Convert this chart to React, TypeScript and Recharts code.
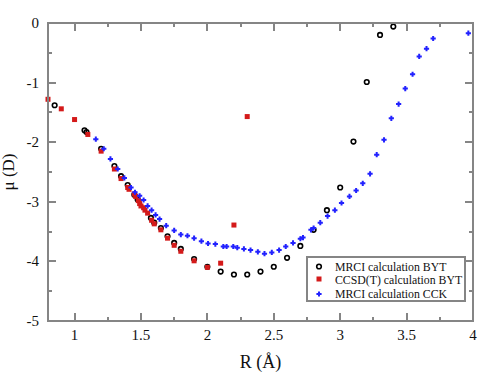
import React from 'react';
import { ScatterChart, Scatter, XAxis, YAxis, Label } from 'recharts';

const mrciBytR = [0.85, 1.075, 1.09, 1.2, 1.3, 1.35, 1.4, 1.45, 1.475, 1.575, 1.6, 1.65, 1.7, 1.75, 1.8, 1.9, 2.0, 2.1, 2.2, 2.3, 2.4, 2.5, 2.6, 2.7, 2.8, 2.9, 3.0, 3.1, 3.2, 3.3, 3.4];
const mrciBytMu = [-1.38, -1.80, -1.83, -2.11, -2.40, -2.57, -2.72, -2.88, -2.96, -3.27, -3.35, -3.44, -3.58, -3.69, -3.79, -3.96, -4.09, -4.17, -4.22, -4.22, -4.17, -4.09, -3.94, -3.74, -3.47, -3.14, -2.76, -1.99, -0.99, -0.20, -0.06];

const ccsdR = [0.8, 0.9, 1.0, 1.1, 1.2, 1.3, 1.35, 1.4, 1.41, 1.45, 1.46, 1.48, 1.49, 1.5, 1.52, 1.53, 1.55, 1.58, 1.6, 1.65, 1.7, 1.75, 1.8, 1.9, 2.0, 2.1, 2.2, 2.3];
const ccsdMu = [-1.28, -1.44, -1.62, -1.87, -2.15, -2.45, -2.61, -2.76, -2.79, -2.87, -2.91, -2.98, -3.03, -3.07, -3.10, -3.14, -3.19, -3.31, -3.37, -3.47, -3.61, -3.73, -3.83, -3.99, -4.10, -4.03, -3.39, -1.57];

const mrciCckR = [1.16, 1.22, 1.27, 1.325, 1.375, 1.425, 1.455, 1.49, 1.52, 1.55, 1.58, 1.61, 1.64, 1.69, 1.75, 1.80, 1.85, 1.90, 1.955, 2.005, 2.06, 2.12, 2.145, 2.195, 2.225, 2.275, 2.325, 2.38, 2.43, 2.485, 2.54, 2.59, 2.645, 2.70, 2.72, 2.78, 2.80, 2.85, 2.905, 2.96, 3.01, 3.07, 3.12, 3.17, 3.225, 3.275, 3.33, 3.385, 3.44, 3.49, 3.545, 3.595, 3.65, 3.70, 3.965];
const mrciCckMu = [-1.95, -2.11, -2.28, -2.45, -2.60, -2.76, -2.84, -2.90, -2.97, -3.07, -3.14, -3.22, -3.29, -3.40, -3.48, -3.55, -3.57, -3.61, -3.66, -3.70, -3.71, -3.75, -3.75, -3.75, -3.77, -3.79, -3.81, -3.84, -3.87, -3.85, -3.81, -3.75, -3.69, -3.62, -3.60, -3.47, -3.44, -3.35, -3.24, -3.14, -3.02, -2.91, -2.81, -2.69, -2.53, -2.21, -1.96, -1.60, -1.36, -1.10, -0.86, -0.56, -0.43, -0.26, -0.17];

const xDomain = [0.8, 4];
const yDomain = [-5, 0];
const xTicks = [1, 1.25, 1.5, 1.75, 2, 2.25, 2.5, 2.75, 3, 3.25, 3.5, 3.75, 4];
const yTicks = [-5, -4.5, -4, -3.5, -3, -2.5, -2, -1.5, -1, -0.5, 0];

const seriesNames = ['MRCI calculation BYT', 'CCSD(T) calculation BYT', 'MRCI calculation CCK'];

const toPoints = (xs: number[], ys: number[]) => xs.map((x, i) => ({ x, y: ys[i] }));
const bytData = toPoints(mrciBytR, mrciBytMu);
const ccsdData = toPoints(ccsdR, ccsdMu);
const cckData = toPoints(mrciCckR, mrciCckMu);

const W = 494;
const H = 381;
const MARGIN = { top: 23, right: 21, bottom: 10, left: 8 };
const Y_AXIS_W = 40;
const X_AXIS_H = 50;
const PLOT = {
  left: MARGIN.left + Y_AXIS_W,
  top: MARGIN.top,
  right: W - MARGIN.right,
  bottom: H - MARGIN.bottom - X_AXIS_H,
};
const sx = (v: number) => PLOT.left + ((v - xDomain[0]) / (xDomain[1] - xDomain[0])) * (PLOT.right - PLOT.left);
const sy = (v: number) => PLOT.bottom - ((v - yDomain[0]) / (yDomain[1] - yDomain[0])) * (PLOT.bottom - PLOT.top);

const AXIS = '#858585';
const FONT = '"Liberation Serif", "Times New Roman", serif';
const RED = '#d41a1a';
const BLUE = '#2222ff';
const TW = 2;

const isHalf = (v: number) => Math.abs(v * 2 - Math.round(v * 2)) < 1e-6;
const isInt = (v: number) => Math.abs(v - Math.round(v)) < 1e-6;

const BottomLabel = (p: any) => {
  const v = p.payload.value;
  if (!isHalf(v)) return <g />;
  return <text x={p.x} y={p.y + 19} textAnchor="middle" fontFamily={FONT} fontSize={15} fill="#111">{String(v)}</text>;
};
const LeftLabel = (p: any) => {
  const v = p.payload.value;
  if (!isInt(v)) return <g />;
  return <text x={p.x - 9} y={p.y + 5} textAnchor="end" fontFamily={FONT} fontSize={15} fill="#111">{String(v)}</text>;
};

const CircleShape = (p: any) => (
  <circle cx={p.cx} cy={p.cy} r={2.3} fill="none" stroke="#000" strokeWidth={1.6} />
);
const SquareShape = (p: any) => (
  <rect x={p.cx - 2.5} y={p.cy - 2.5} width={5} height={5} fill={RED} />
);
const starPath = (cx: number, cy: number) =>
  `M${cx - 1},${cy - 2.6} L${cx + 1},${cy - 2.6} L${cx + 1},${cy - 1} L${cx + 2.6},${cy - 1} L${cx + 2.6},${cy + 1} L${cx + 1},${cy + 1} L${cx + 1},${cy + 2.6} L${cx - 1},${cy + 2.6} L${cx - 1},${cy + 1} L${cx - 2.6},${cy + 1} L${cx - 2.6},${cy - 1} L${cx - 1},${cy - 1} Z`;
const StarShape = (p: any) => <path d={starPath(p.cx, p.cy)} fill={BLUE} />;

const box = (key: string, left: number, top: number, width: number, height: number) => (
  <div key={key} style={{ position: 'absolute', left, top, width, height, background: AXIS }} />
);

function HtmlFrame() {
  const items: any[] = [];
  const w = PLOT.right - PLOT.left;
  const h = PLOT.bottom - PLOT.top;
  items.push(
    <div
      key="frame"
      style={{
        position: 'absolute',
        left: PLOT.left - 1,
        top: PLOT.top - 1,
        width: w + 2,
        height: h + 2,
        border: `2px solid ${AXIS}`,
        boxSizing: 'border-box',
      }}
    />
  );
  xTicks.forEach((t, i) => {
    const len = isHalf(t) ? 8 : 4;
    const x = Math.round(sx(t)) - TW / 2;
    items.push(box(`b${i}`, x, PLOT.bottom - len, TW, len));
    items.push(box(`t${i}`, x, PLOT.top, TW, len));
  });
  yTicks.forEach((t, i) => {
    const len = isInt(t) ? 8 : 4;
    const y = Math.round(sy(t)) - TW / 2;
    items.push(box(`l${i}`, PLOT.left, y, len, TW));
    items.push(box(`r${i}`, PLOT.right - len, y, len, TW));
  });
  return <div style={{ position: 'absolute', left: 0, top: 0, width: W, height: H, pointerEvents: 'none' }}>{items}</div>;
}

export default function App() {
  return (
    <div style={{ position: 'absolute', left: 0, top: 0, width: W, height: H, background: '#fff' }}>
      <ScatterChart width={W} height={H} margin={MARGIN}>
        <XAxis
          dataKey="x"
          type="number"
          domain={xDomain}
          ticks={xTicks}
          interval={0}
          height={X_AXIS_H}
          tickSize={0}
          tickMargin={0}
          tickLine={false}
          axisLine={{ stroke: AXIS, strokeWidth: 2 }}
          tick={<BottomLabel />}
        >
          <Label
            content={(props: any) => {
              const vb = props.viewBox;
              return (
                <text x={vb.x + vb.width / 2} y={vb.y + 47} textAnchor="middle" fontFamily={FONT} fontSize={18} fill="#111">R (Å)</text>
              );
            }}
          />
        </XAxis>
        <YAxis
          dataKey="y"
          type="number"
          domain={yDomain}
          ticks={yTicks}
          interval={0}
          width={Y_AXIS_W}
          tickSize={0}
          tickMargin={0}
          tickLine={false}
          axisLine={{ stroke: AXIS, strokeWidth: 2 }}
          tick={<LeftLabel />}
        >
          <Label
            content={(props: any) => {
              const vb = props.viewBox;
              const cx = 14;
              const cy = vb.y + vb.height / 2;
              return (
                <text x={cx} y={cy} transform={`rotate(-90, ${cx}, ${cy})`} textAnchor="middle" fontFamily={FONT} fontSize={17} fill="#111">μ (D)</text>
              );
            }}
          />
        </YAxis>
        <Scatter name={seriesNames[0]} data={bytData} shape={CircleShape} isAnimationActive={false} />
        <Scatter name={seriesNames[1]} data={ccsdData} shape={SquareShape} isAnimationActive={false} />
        <Scatter name={seriesNames[2]} data={cckData} shape={StarShape} isAnimationActive={false} />
      </ScatterChart>
      <HtmlFrame />
      <svg width={160} height={46} style={{ position: 'absolute', left: 306, top: 256 }}>
        <rect x={1} y={1} width={158} height={44} fill="#fff" stroke={AXIS} strokeWidth={2} />
        <circle cx={13} cy={10.5} r={2.3} fill="none" stroke="#000" strokeWidth={1.6} />
        <rect x={10.5} y={20.5} width={5} height={5} fill={RED} />
        <path d={starPath(13, 38)} fill={BLUE} />
        <text x={29} y={15} fontFamily={FONT} fontSize={11.8} fill="#111">{seriesNames[0]}</text>
        <text x={29} y={27.5} fontFamily={FONT} fontSize={11.8} fill="#111">{seriesNames[1]}</text>
        <text x={29} y={42} fontFamily={FONT} fontSize={11.8} fill="#111">{seriesNames[2]}</text>
      </svg>
    </div>
  );
}
